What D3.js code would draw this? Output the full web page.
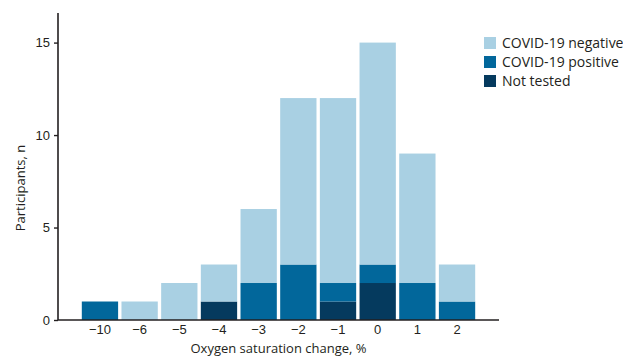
<!DOCTYPE html>
<html>
<head>
<meta charset="utf-8">
<script src="https://cdn.jsdelivr.net/npm/d3@7"></script>
<style>
  body { margin: 0; background: #fff; }
  svg { font-family: "Open Sans", sans-serif; }
</style>
</head>
<body>
<div class="chart"></div>
<script>
// values
const categories = ['−10', '−6', '−5', '−4', '−3', '−2', '−1', '0', '1', '2'];
const notTested = [0, 0, 0, 1, 0, 0, 1, 2, 0, 0];
const covidPositive = [1, 0, 0, 0, 2, 3, 1, 1, 2, 1];
const covidNegative = [0, 1, 2, 2, 4, 9, 10, 12, 7, 2];
const seriesNames = ['Not tested', 'COVID-19 positive', 'COVID-19 negative'];
const yTicks = [0, 5, 10, 15];

const colors = {
  'Not tested': '#053a5e',
  'COVID-19 positive': '#02679b',
  'COVID-19 negative': '#a9d0e3'
};

const W = 623, H = 359;
const svg = d3.select('.chart').append('svg')
  .attr('width', W)
  .attr('height', H);

const x = d3.scaleBand()
  .domain(categories)
  .range([58, 499])
  .paddingInner(0.085)
  .paddingOuter(0.6);

const y = d3.scaleLinear()
  .domain([0, 16.6])
  .range([320, 13]);

const rows = categories.map((c, i) => ({
  cat: c,
  'Not tested': notTested[i],
  'COVID-19 positive': covidPositive[i],
  'COVID-19 negative': covidNegative[i]
}));

const stacked = d3.stack().keys(seriesNames)(rows);

svg.append('g').selectAll('g')
  .data(stacked)
  .join('g')
  .attr('fill', d => colors[d.key])
  .selectAll('rect')
  .data(d => d.filter(p => p[1] > p[0]))
  .join('rect')
  .attr('x', d => x(d.data.cat))
  .attr('width', x.bandwidth())
  .attr('y', d => y(d[1]))
  .attr('height', d => y(d[0]) - y(d[1]));

// y axis
const yAxis = svg.append('g')
  .attr('transform', 'translate(58,0)')
  .call(d3.axisLeft(y).tickValues(yTicks).tickSize(4).tickPadding(4));
yAxis.select('.domain').attr('d', `M0,${y.range()[1]}V${y(0)}`);

// x axis
const xAxis = svg.append('g')
  .attr('transform', `translate(0,${y(0)})`)
  .call(d3.axisBottom(x).tickSize(0).tickPadding(5));
xAxis.select('.domain').attr('d', `M${x.range()[0]},0H${x.range()[1]}`);

svg.selectAll('.domain').attr('stroke', '#231f20').attr('stroke-width', 1.6);
svg.selectAll('.tick line').attr('stroke', '#231f20').attr('stroke-width', 1.4);
svg.selectAll('.tick text').attr('fill', '#231f20').style('font-size', '13px');

svg.append('text')
  .attr('x', (x.range()[0] + x.range()[1]) / 2)
  .attr('y', 353)
  .attr('text-anchor', 'middle')
  .attr('fill', '#231f20')
  .style('font-size', '13px')
  .text('Oxygen saturation change, %');

svg.append('text')
  .attr('transform', 'translate(25,188) rotate(-90)')
  .attr('text-anchor', 'middle')
  .attr('fill', '#231f20')
  .style('font-size', '13px')
  .text('Participants, n');

// legend
const legendOrder = ['COVID-19 negative', 'COVID-19 positive', 'Not tested'];
const legend = svg.append('g')
  .selectAll('g')
  .data(legendOrder)
  .join('g')
  .attr('transform', (d, i) => `translate(484,${37 + i * 19})`);
legend.append('rect')
  .attr('width', 12)
  .attr('height', 12)
  .attr('fill', d => colors[d]);
legend.append('text')
  .attr('x', 18)
  .attr('y', 6)
  .attr('dy', '0.35em')
  .attr('fill', '#231f20')
  .style('font-size', '14px')
  .text(d => d);
</script>
</body>
</html>
